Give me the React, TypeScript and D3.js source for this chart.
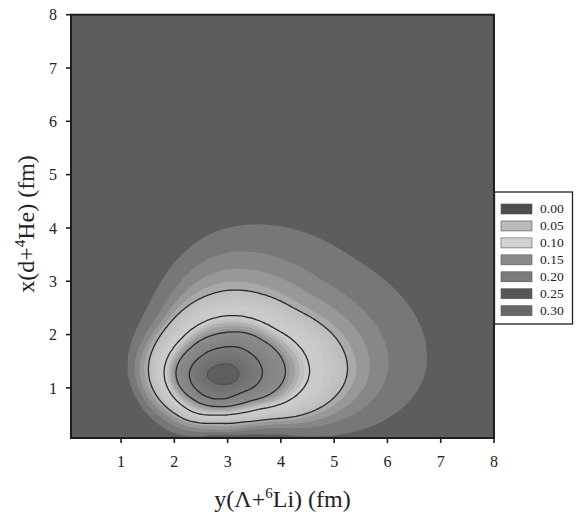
import React, { useMemo } from 'react';
import * as d3 from 'd3';

const W = 576;
const H = 514;

// axis domain and ticks
const AXIS_MIN = 0.06;
const AXIS_MAX = 8;
const xTicks = [1, 2, 3, 4, 5, 6, 7, 8];
const yTicks = [1, 2, 3, 4, 5, 6, 7, 8];

// peak of the density (y(Λ+6Li), x(d+4He)) in fm and its value
const peakPos = [2.9, 1.25];
const peakValue = 0.27;

// contour levels, innermost first
const contourLevels = [0.25, 0.2, 0.15, 0.1, 0.05, 0.04, 0.03, 0.02, 0.01];
// radius (fm) of every level from the peak, along 8 directions (E, NE, N, NW, W, SW, S, SE)
const radiiE = [0.32, 0.75, 1.18, 1.63, 2.34, 2.5, 2.75, 3.09, 3.8];
const radiiNE = [0.26, 0.64, 0.97, 1.28, 1.81, 1.94, 2.21, 2.56, 3.25];
const radiiN = [0.2, 0.51, 0.78, 1.09, 1.56, 1.72, 1.95, 2.26, 2.72];
const radiiNW = [0.22, 0.52, 0.77, 1.02, 1.38, 1.45, 1.53, 1.66, 1.92];
const radiiW = [0.29, 0.62, 0.87, 1.09, 1.38, 1.46, 1.55, 1.64, 1.76];
const radiiSW = [0.22, 0.53, 0.7, 0.92, 1.12, 1.17, 1.24, 1.33, 1.46];
const radiiS = [0.19, 0.46, 0.6, 0.76, 0.91, 0.97, 1.03, 1.08, 1.12];
const radiiSE = [0.24, 0.49, 0.71, 0.93, 1.19, 1.25, 1.33, 1.42, 1.59];

// black contour lines
const lineLevels = [0.05, 0.1, 0.15, 0.2];
const innerLevel = 0.25;

// grey shading of the filled bands
const shadeStops = [0.01, 0.02, 0.03, 0.04, 0.05, 0.08, 0.1, 0.11, 0.12, 0.13, 0.14, 0.15, 0.19, 0.2, 0.24, 0.25];
const shadeColors = ['#777777', '#878787', '#989898', '#a9a9a9', '#bebebe', '#cacaca', '#cbcbcb', '#c0c0c0', '#b0b0b0', '#a0a0a0', '#949494', '#8b8b8b', '#818181', '#7b7b7b', '#6e6e6e', '#5e5e5e'];
const bandThresholds = d3.range(1, 27).map((i) => i / 100);

// legend
const legendLabels = ['0.00', '0.05', '0.10', '0.15', '0.20', '0.25', '0.30'];
const legendColors = ['#4e4e4e', '#bababa', '#d2d2d2', '#8a8a8a', '#7c7c7c', '#575757', '#676767'];

const directions = [radiiE, radiiNE, radiiN, radiiNW, radiiW, radiiSW, radiiS, radiiSE];

const STEP = 0.04;
const N = Math.round(8 / STEP) + 1;

function catmull(p0: number, p1: number, p2: number, p3: number, t: number) {
  return 0.5 * (2 * p1 + (-p0 + p2) * t + (2 * p0 - 5 * p1 + 4 * p2 - p3) * t * t + (-p0 + 3 * p1 - 3 * p2 + p3) * t * t * t);
}

function fieldAt(X: number, Y: number) {
  const dx = X - peakPos[0];
  const dy = Y - peakPos[1];
  const r = Math.hypot(dx, dy);
  let deg = (Math.atan2(dy, dx) * 180) / Math.PI;
  if (deg < 0) deg += 360;
  const seg = deg / 45;
  const i = Math.floor(seg) % 8;
  const t = seg - Math.floor(seg);
  let prevR = 0;
  let prevV = peakValue;
  for (let k = 0; k < contourLevels.length; k++) {
    const rk = catmull(directions[(i + 7) % 8][k], directions[i][k], directions[(i + 1) % 8][k], directions[(i + 2) % 8][k], t);
    if (rk <= prevR) continue;
    if (r <= rk) return prevV + ((contourLevels[k] - prevV) * (r - prevR)) / (rk - prevR);
    prevR = rk;
    prevV = contourLevels[k];
  }
  return Math.max(0, 0.01 - (r - prevR) * 0.02);
}

const left = 71;
const right = 494;
const top = 14.7;
const bottom = 438;

export default function App() {
  const xs = d3.scaleLinear().domain([AXIS_MIN, AXIS_MAX]).range([left, right]);
  const ys = d3.scaleLinear().domain([AXIS_MIN, AXIS_MAX]).range([bottom, top]);
  const shade = d3.scaleLinear<string>().domain(shadeStops).range(shadeColors).clamp(true);

  const { bands, lines, inner } = useMemo(() => {
    const values = new Array(N * N);
    for (let j = 0; j < N; j++) {
      for (let i = 0; i < N; i++) {
        values[j * N + i] = fieldAt(i * STEP, j * STEP);
      }
    }
    const proj = d3.geoTransform({
      point(x: number, y: number) {
        // @ts-ignore
        this.stream.point(xs((x - 0.5) * STEP), ys((y - 0.5) * STEP));
      },
    });
    const path = d3.geoPath(proj);
    const gen = d3.contours().size([N, N]);
    const bands = gen.thresholds(bandThresholds)(values).map((c) => ({ d: path(c as any) || '', v: c.value }));
    const lines = d3.contours().size([N, N]).thresholds(lineLevels)(values).map((c) => ({ d: path(c as any) || '', v: c.value }));
    const inner = d3.contours().size([N, N]).thresholds([innerLevel])(values).map((c) => ({ d: path(c as any) || '', v: c.value }));
    return { bands, lines, inner };
  }, []);

  const serif = '"Liberation Serif", "Times New Roman", serif';

  return (
    <svg width={W} height={H} style={{ position: 'absolute', left: 0, top: 0, background: '#fff' }} fontFamily={serif}>
      <defs>
        <clipPath id="plotclip">
          <rect x={left} y={top} width={right - left} height={bottom - top} />
        </clipPath>
      </defs>
      <rect x={0} y={0} width={W} height={H} fill="#ffffff" />
      <g clipPath="url(#plotclip)">
        <rect x={left} y={top} width={right - left} height={bottom - top} fill="#5d5d5d" />
        {bands.map((b, i) => (
          <path key={i} d={b.d} fill={shade(b.v)} stroke="none" />
        ))}
        {lines.map((b, i) => (
          <path key={'l' + i} d={b.d} fill="none" stroke="#2a2a2a" strokeWidth={1.3} />
        ))}
        {inner.map((b, i) => (
          <path key={'c' + i} d={b.d} fill="none" stroke="#474747" strokeWidth={0.8} />
        ))}
      </g>
      <rect x={left} y={top} width={right - left} height={bottom - top} fill="none" stroke="#1e1e1e" strokeWidth={2} />
      {xTicks.map((t) => (
        <g key={'xt' + t}>
          <line x1={xs(t)} x2={xs(t)} y1={bottom} y2={bottom + 5} stroke="#1e1e1e" strokeWidth={1.6} />
          <text x={xs(t)} y={467} textAnchor="middle" fontSize={16} fill="#222">
            {t}
          </text>
        </g>
      ))}
      {yTicks.map((t) => (
        <g key={'yt' + t}>
          <line x1={left - 5} x2={left} y1={ys(t)} y2={ys(t)} stroke="#1e1e1e" strokeWidth={1.6} />
          <text x={57} y={ys(t) + 5.7} textAnchor="end" fontSize={16} fill="#222">
            {t}
          </text>
        </g>
      ))}
      <text x={(left + right) / 2 + 0} y={507} textAnchor="middle" fontSize={24} fill="#222">
        y(Λ+<tspan dy={-9} fontSize={15}>6</tspan>
        <tspan dy={9}>Li) (fm)</tspan>
      </text>
      <text transform={`translate(33.5,224) rotate(-90)`} textAnchor="middle" fontSize={24} fill="#222">
        x(d+<tspan dy={-9} fontSize={15}>4</tspan>
        <tspan dy={9}>He) (fm)</tspan>
      </text>
      <rect x={494.5} y={192} width={78} height={132} fill="#ffffff" stroke="#222" strokeWidth={1.3} />
      {legendLabels.map((lab, i) => {
        const y0 = 204 + i * 16.95;
        return (
          <g key={'lg' + i}>
            <rect x={501} y={y0} width={31} height={10} fill={legendColors[i]} stroke="#555" strokeWidth={0.6} />
            <text x={540} y={y0 + 9.3} fontSize={13.5} fill="#222">
              {lab}
            </text>
          </g>
        );
      })}
    </svg>
  );
}
